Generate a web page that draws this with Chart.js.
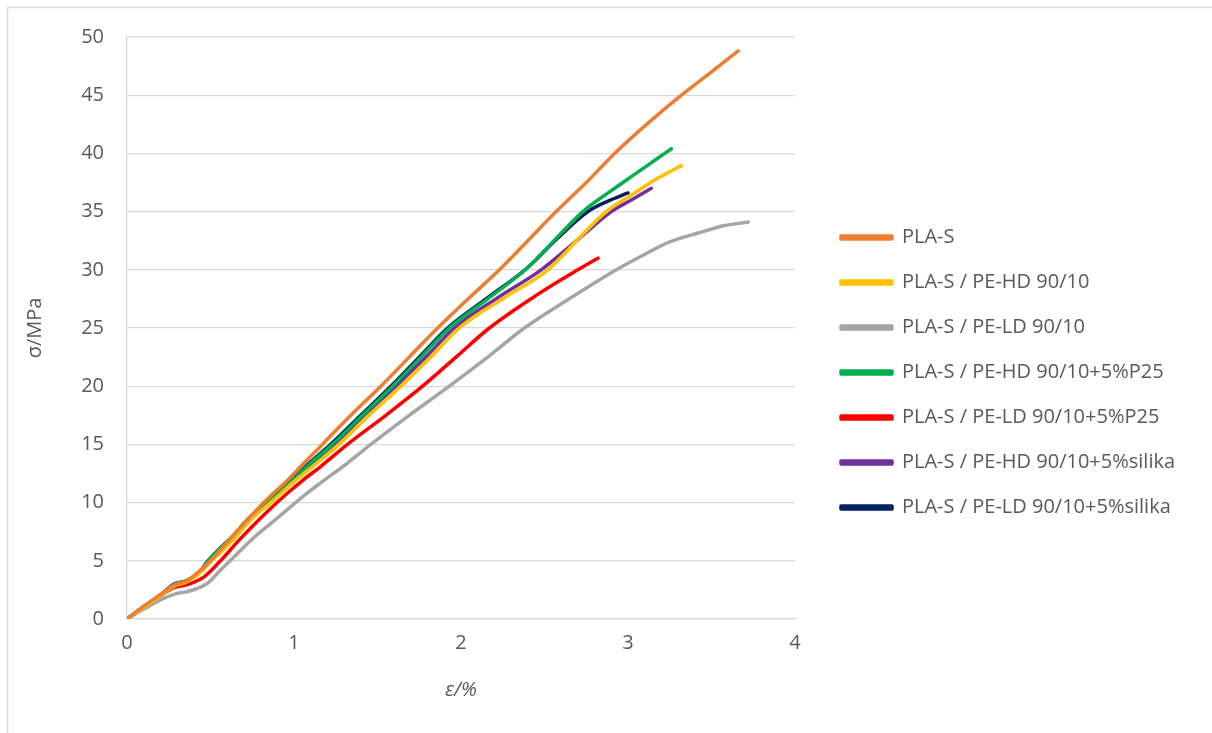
<!DOCTYPE html>
<html>
<head>
<meta charset="utf-8">
<script src="https://cdn.jsdelivr.net/npm/chart.js@4.4.1/dist/chart.umd.min.js"></script>
<style>
  html, body { margin: 0; padding: 0; background: #fff; }
  #wrap { width: 1212px; height: 733px; }
</style>
</head>
<body>
<div id="wrap"><canvas id="grafico" width="1212" height="733"></canvas></div>
<script>
//------ Datos (deformacion % / tension MPa) ------//
const etiquetas = [
  'PLA-S',
  'PLA-S / PE-HD 90/10',
  'PLA-S / PE-LD 90/10',
  'PLA-S / PE-HD 90/10+5%P25',
  'PLA-S / PE-LD 90/10+5%P25',
  'PLA-S / PE-HD 90/10+5%silika',
  'PLA-S / PE-LD 90/10+5%silika'
];
const colores = ['#ED7D31', '#FFC000', '#A5A5A5', '#00B050', '#FF0000', '#7030A0', '#002060'];

const plaS_x = [0,0.1,0.2,0.28,0.36,0.44,0.5,0.6,0.72,0.84,0.96,1.06,1.17,1.34,1.52,1.69,1.86,2.05,2.23,2.40,2.57,2.75,2.92,3.12,3.32,3.50,3.66];
const plaS_y = [0,1.1,2.1,2.9,3.3,4.2,5.0,6.6,8.5,10.3,11.9,13.4,15.0,17.5,20.0,22.5,25.0,27.6,30.0,32.5,35.0,37.5,40.0,42.6,45.0,47.0,48.8];

const hd_x = [0,0.1,0.2,0.28,0.36,0.44,0.5,0.58,0.66,0.74,0.86,1.0,1.12,1.27,1.45,1.64,1.82,1.99,2.26,2.52,2.72,2.87,3.03,3.17,3.32];
const hd_y = [0,1.0,2.0,2.8,3.2,4.0,4.9,6.0,7.2,8.5,10.0,11.8,13.2,15.0,17.5,20.0,22.5,25.0,27.6,30.0,32.9,35.0,36.5,37.8,38.95];

const ld_x = [0,0.1,0.2,0.3,0.36,0.48,0.56,0.66,0.76,0.86,0.96,1.06,1.16,1.32,1.46,1.69,1.93,2.16,2.38,2.67,2.93,3.07,3.25,3.43,3.58,3.72];
const ld_y = [0,0.85,1.65,2.2,2.35,3.05,4.2,5.6,7.0,8.2,9.4,10.6,11.7,13.4,15.0,17.5,20.0,22.5,25.0,27.7,30.0,31.1,32.4,33.2,33.8,34.1];

const hdP25_x = [0,0.1,0.2,0.28,0.36,0.44,0.48,0.56,0.64,0.72,0.84,1.0,1.1,1.23,1.41,1.59,1.76,1.93,2.17,2.40,2.57,2.73,2.90,3.05,3.18,3.26];
const hdP25_y = [0,1.0,2.0,2.95,3.3,4.1,4.9,6.1,7.2,8.5,10.0,12.0,13.4,15.0,17.5,20.0,22.5,25.0,27.6,30.2,32.7,35.0,36.8,38.3,39.6,40.4];

const ldP25_x = [0,0.1,0.2,0.28,0.36,0.46,0.56,0.66,0.76,0.86,0.96,1.06,1.16,1.32,1.55,1.77,1.97,2.17,2.45,2.70,2.82];
const ldP25_y = [0,1.0,2.0,2.7,2.95,3.6,5.0,6.6,8.1,9.5,10.8,12.0,13.1,15.0,17.5,20.0,22.5,25.0,27.8,30.0,31.0];

const hdSil_x = [0,0.1,0.2,0.28,0.36,0.44,0.48,0.56,0.64,0.72,0.84,1.0,1.1,1.24,1.42,1.61,1.79,1.96,2.22,2.48,2.70,2.90,3.02,3.14];
const hdSil_y = [0,1.05,2.05,3.0,3.3,4.1,4.9,6.1,7.2,8.5,10.0,12.0,13.3,15.0,17.5,20.0,22.5,25.0,27.6,30.0,32.6,35.0,36.0,37.0];

const ldSil_x = [0,0.1,0.2,0.28,0.36,0.44,0.48,0.56,0.64,0.72,0.84,1.0,1.1,1.22,1.40,1.58,1.75,1.92,2.16,2.40,2.57,2.76,2.88,3.0];
const ldSil_y = [0,1.0,2.0,2.95,3.3,4.1,4.9,6.1,7.2,8.5,10.0,12.1,13.5,15.0,17.5,20.0,22.5,25.0,27.6,30.2,32.6,35.0,35.9,36.6];

const series_x = [plaS_x, hd_x, ld_x, hdP25_x, ldP25_x, hdSil_x, ldSil_x];
const series_y = [plaS_y, hd_y, ld_y, hdP25_y, ldP25_y, hdSil_y, ldSil_y];

const ejeX_min = 0, ejeX_max = 4, ejeX_paso = 1;
const ejeY_min = 0, ejeY_max = 50, ejeY_paso = 5;

//------ Armado de datasets ------//
let datasets = [];
for (let i = 0; i < etiquetas.length; i++) {
  let puntos = [];
  for (let j = 0; j < series_x[i].length; j++) {
    puntos.push({ x: series_x[i][j], y: series_y[i][j] });
  }
  datasets.push({
    label: etiquetas[i],
    data: puntos,
    borderColor: colores[i],
    backgroundColor: colores[i],
    borderWidth: 3.5,
    pointRadius: 0,
    cubicInterpolationMode: 'monotone',
    borderCapStyle: 'round',
    borderJoinStyle: 'round'
  });
}

//------ Marco exterior y ancho fijo de la leyenda ------//
const marco = {
  id: 'marco',
  beforeInit(chart) {
    const fitOriginal = chart.legend.fit;
    chart.legend.fit = function () {
      fitOriginal.call(this);
      this.width = 374;
    };
  },
  beforeDraw(chart) {
    const ctx = chart.ctx;
    ctx.save();
    ctx.fillStyle = '#ffffff';
    ctx.fillRect(0, 0, chart.width, chart.height);
    ctx.strokeStyle = '#d9d9d9';
    ctx.lineWidth = 1.5;
    ctx.strokeRect(7.5, 7.5, 1400, 900);
    ctx.restore();
  }
};

const gris = '#595959';
const fuente = "'Open Sans', 'DejaVu Sans', sans-serif";

let ctx = document.querySelector('#grafico');
let grafico = new Chart(ctx, {
  type: 'line',
  data: { datasets: datasets },
  plugins: [marco],
  options: {
    responsive: false,
    animation: false,
    devicePixelRatio: 1,
    layout: { padding: { left: 8, top: 37, right: 22, bottom: 25 } },
    plugins: {
      legend: {
        position: 'right',
        maxWidth: 420,
        labels: {
          boxWidth: 51,
          boxHeight: 3,
          padding: 25,
          color: gris,
          font: { family: fuente, size: 20 }
        }
      },
      tooltip: { enabled: false }
    },
    scales: {
      x: {
        type: 'linear',
        min: ejeX_min,
        max: ejeX_max,
        ticks: { stepSize: ejeX_paso, color: gris, padding: 12, font: { family: fuente, size: 20 } },
        grid: { display: false, drawTicks: false },
        border: { display: true, color: '#d9d9d9', width: 1.3 },
        title: { display: true, text: 'ε/%', color: gris, padding: 6, font: { family: fuente, size: 20, style: 'italic' } },
        afterFit(s) { s.height = 733 - 619 - 25; }
      },
      y: {
        min: ejeY_min,
        max: ejeY_max,
        ticks: { stepSize: ejeY_paso, color: gris, padding: 23, font: { family: fuente, size: 20 } },
        grid: { color: '#d9d9d9', lineWidth: 1.3, drawTicks: false },
        border: { display: true, color: '#d9d9d9', width: 1.3 },
        title: { display: true, text: 'σ/MPa', color: gris, padding: 15, font: { family: fuente, size: 20 } },
        afterFit(s) { s.width = 127 - 8; }
      },
      relleno: {
        position: 'right',
        display: true,
        grid: { display: false, drawTicks: false },
        border: { display: false },
        ticks: { display: false },
        afterFit(s) { s.width = 21; }
      }
    }
  }
});
</script>
</body>
</html>
